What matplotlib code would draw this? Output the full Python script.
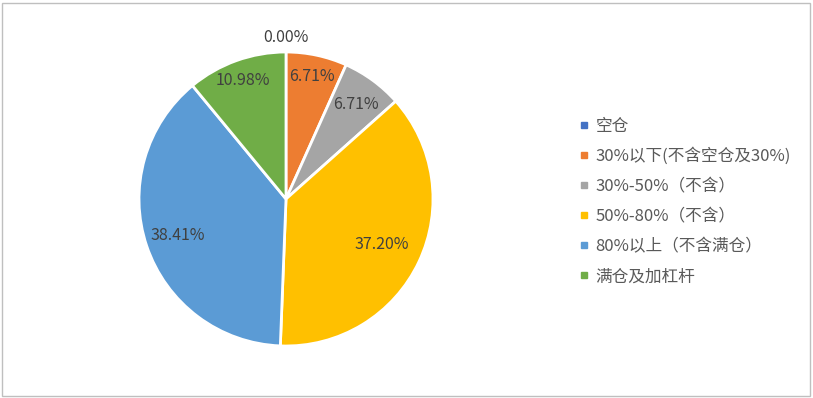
import matplotlib
matplotlib.use("Agg")
import matplotlib.pyplot as plt
from matplotlib.lines import Line2D
from matplotlib.patches import Rectangle
import numpy as np

plt.rcParams['font.family'] = ['Noto Sans CJK SC', 'DejaVu Sans']

labels = ["空仓", "30%以下(不含空仓及30%)", "30%-50%（不含）", "50%-80%（不含）",
          "80%以上（不含满仓）", "满仓及加杠杆"]
values = [0.00, 6.71, 6.71, 37.20, 38.41, 10.98]
colors = ["#4472C4", "#ED7D31", "#A5A5A5", "#FFC000", "#5B9BD5", "#70AD47"]
# radial position of each percentage label (fraction of radius)
label_dist = [1.10, 0.85, 0.80, 0.72, 0.78, 0.86]

fig = plt.figure(figsize=(8.13, 3.98), dpi=100)
W, H = 813, 398
cx, cy, r = 286, 199, 147
ax = fig.add_axes([(cx - r) / W, (H - cy - r) / H, 2 * r / W, 2 * r / H])

wedges, _ = ax.pie(values, colors=colors, startangle=90, counterclock=False,
                   radius=1.0, wedgeprops=dict(edgecolor="white", linewidth=2))
ax.set_xlim(-1, 1)
ax.set_ylim(-1, 1)
ax.set_aspect("equal")
ax.axis("off")

for w, v, d in zip(wedges, values, label_dist):
    ang = np.deg2rad((w.theta1 + w.theta2) / 2)
    ax.text(d * np.cos(ang), d * np.sin(ang), f"{v:.2f}%", ha="center", va="center",
            fontsize=11.5, color="#404040", clip_on=False)

handles = [Line2D([], [], marker="s", linestyle="none", markersize=4.5,
                  markerfacecolor=c, markeredgecolor=c) for c in colors]
fig.legend(handles, labels, loc="upper left", bbox_to_anchor=(572 / W, 1 - 111 / H),
           frameon=False, fontsize=12, labelcolor="#595959", handlelength=0.6,
           handletextpad=0.4, labelspacing=0.78, borderaxespad=0)

fig.patches.append(Rectangle((2 / W, 2 / H), 1 - 5 / W, 1 - 5 / H, transform=fig.transFigure,
                             fill=False, edgecolor="#BFBFBF", linewidth=1))

fig.savefig("out.png", dpi=100)
